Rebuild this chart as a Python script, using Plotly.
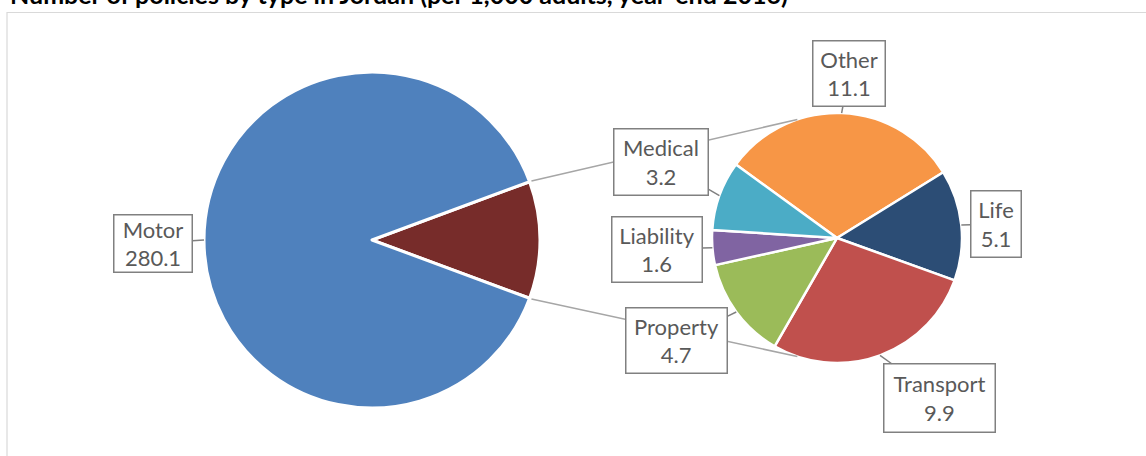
import math
import plotly.graph_objects as go

# ---------------- data ----------------
title_text = "Number of policies by type in Jordan (per 1,000 adults, year-end 2016)"
main_labels = ["Other", "Motor"]
motor_value = 280.1
detail_labels = ["Other", "Life", "Transport", "Property", "Liability", "Medical"]
detail_values = [11.1, 5.1, 9.9, 4.7, 1.6, 3.2]

# ---------------- style / layout constants ----------------
W, H = 1146, 456
MAIN_C, MAIN_R = (372, 240), 168
SEC_C, SEC_R = (837, 238), 125
SEC_ROTATION = -54
CONNECT_END_ANGLES = (-18.5, 198.5)   # cw from top, on secondary pie
main_colors = ["#772C2A", "#4F81BD"]
detail_colors = ["#F79646", "#2C4D75", "#C0504D", "#9BBB59", "#8064A2", "#4BACC6"]
FONT = "Lato"
TXT = "#595959"
BOX = "#808080"
BW = 1.5
# box centre (px) and outer size (px) for each callout
boxes = {
    "Motor": (153, 243.5, 80, 59),
    "Other": (849, 73.5, 74, 67),
    "Medical": (661, 162, 96, 68),
    "Liability": (657, 249.5, 92, 67),
    "Property": (676.5, 340.5, 103, 67),
    "Life": (996, 224, 52, 68),
    "Transport": (939.5, 398, 113, 70),
}

other_sum = round(sum(detail_values), 1)
main_values = [other_sum, motor_value]
total = sum(main_values)
main_rotation = 90 - 180 * other_sum / total


def to_paper(x, y):
    return x / W, 1 - y / H


def dom(c, r):
    return dict(x=[(c[0] - r) / W, (c[0] + r) / W],
                y=[1 - (c[1] + r) / H, 1 - (c[1] - r) / H])


def on_circle(c, r, ang):
    a = math.radians(ang)
    return c[0] + r * math.sin(a), c[1] - r * math.cos(a)


fig = go.Figure()
fig.add_trace(go.Pie(
    labels=main_labels, values=main_values, sort=False, direction="clockwise",
    rotation=main_rotation, domain=dom(MAIN_C, MAIN_R), textinfo="none",
    marker=dict(colors=main_colors, line=dict(color="white", width=3)),
    showlegend=False, hoverinfo="label+value", name="main"))
fig.add_trace(go.Pie(
    labels=detail_labels, values=detail_values, sort=False, direction="clockwise",
    rotation=SEC_ROTATION, domain=dom(SEC_C, SEC_R), textinfo="none",
    marker=dict(colors=detail_colors, line=dict(color="white", width=2.5)),
    showlegend=False, hoverinfo="label+value", name="detail"))

shapes = []
# chart border
bx0, by0 = to_paper(7, 12.5)
shapes.append(dict(type="rect", xref="paper", yref="paper", x0=bx0, y0=-0.05,
                   x1=1.05, y1=by0, line=dict(color="#D9D9D9", width=1.2),
                   fillcolor="rgba(0,0,0,0)", layer="below"))
# connector lines
edge_angles = [main_rotation, main_rotation + 360 * other_sum / total]
for ea, sa in zip(edge_angles, CONNECT_END_ANGLES):
    p0 = to_paper(*on_circle(MAIN_C, MAIN_R + 2, ea))
    p1 = to_paper(*on_circle(SEC_C, SEC_R, sa))
    shapes.append(dict(type="line", xref="paper", yref="paper",
                       x0=p0[0], y0=p0[1], x1=p1[0], y1=p1[1],
                       line=dict(color="#A6A6A6", width=1.5)))

annotations = []


def callout(label, value, tip):
    cx, cy, w, h = boxes[label]
    tx, ty = to_paper(*tip)
    annotations.append(dict(
        x=tx, y=ty, xref="paper", yref="paper",
        text=f"{label}<br>{value:.1f}", showarrow=True, arrowhead=0,
        arrowwidth=BW, arrowcolor=BOX, standoff=0,
        ax=cx - tip[0], ay=cy - tip[1],
        width=w - 2 * BW, height=h - 2 * BW, borderpad=0,
        bordercolor=BOX, borderwidth=BW, bgcolor="white",
        align="center", valign="middle",
        font=dict(family=FONT, size=22, color=TXT)))


# main pie label (Motor)
motor_mid = main_rotation + 360 * (other_sum + motor_value / 2) / total
callout("Motor", motor_value, on_circle(MAIN_C, MAIN_R, motor_mid))
# detail labels
cum = 0
sec_total = sum(detail_values)
for lab, v in zip(detail_labels, detail_values):
    mid = SEC_ROTATION + 360 * (cum + v / 2) / sec_total
    cum += v
    callout(lab, v, on_circle(SEC_C, SEC_R, mid))

# title (partly cut at the top, as in the original)
tx, ty = to_paper(8, -6)
annotations.append(dict(x=tx, y=ty, xref="paper", yref="paper", xanchor="left",
                        yanchor="middle", showarrow=False, text=f"<b>{title_text}</b>",
                        font=dict(family=FONT, size=25, color="black")))

fig.update_layout(width=W, height=H, margin=dict(l=0, r=0, t=0, b=0),
                  paper_bgcolor="white", plot_bgcolor="white",
                  shapes=shapes, annotations=annotations)
fig.write_html("out.html", config={"displayModeBar": False},
               post_script="document.body.style.margin='0';document.body.style.overflow='hidden';")
